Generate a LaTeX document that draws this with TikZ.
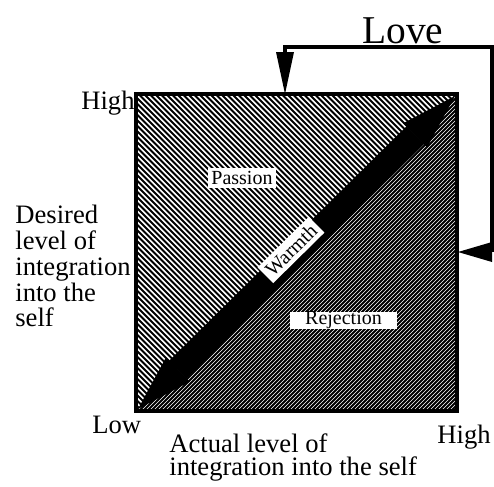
\documentclass[tikz,border=0pt]{standalone}
\usepackage{fontspec}
\setmainfont{Liberation Serif}
\usepackage{tikz}
\usetikzlibrary{arrows.meta,calc}
\tikzset{
  label-axis/.style={font=\fontsize{13.3}{13}\selectfont,inner sep=0pt},
  label-area/.style={font=\fontsize{10}{10}\selectfont,fill=white,inner sep=1.5pt},
  hatch-passion/.style={line width=0.95pt,draw=black},
  hatch-reject/.style={line width=0.3pt,draw=white},
  frame/.style={line width=1.7pt,draw=black,line join=miter},
  arrow-warmth/.style={line width=12.5pt,draw=black,
    {Triangle[length=28pt,width=17pt,line width=0pt]}-{Triangle[length=28pt,width=17pt,line width=0pt]}},
  arrow-love/.style={line width=2.2pt,draw=black,
    {Triangle[length=21pt,width=9pt,line width=0pt]}-{Triangle[length=17pt,width=10pt,line width=0pt]}},
}

\begin{document}
\begin{tikzpicture}[x=0.5pt,y=-0.5pt]
  \useasboundingbox (0,0) rectangle (494,487);
  % corners of the grid
  \coordinate (sq-ul) at (136,94);
  \coordinate (sq-ur) at (457,94);
  \coordinate (sq-ll) at (136,411);
  \coordinate (sq-lr) at (457,411);

  % passion half
  \begin{scope}
    \clip (sq-ul) -- (sq-ur) -- (sq-ll) -- cycle;
    \foreach \c in {-280,-274.5,...,375}
      \draw[hatch-passion] (\c,0) -- ++(500,500);
  \end{scope}
  % rejection half
  \begin{scope}
    \clip (sq-ur) -- (sq-lr) -- (sq-ll) -- cycle;
    \fill[black] (sq-ll) rectangle (sq-ur);
    \foreach \c in {540,544,...,872}
      \draw[hatch-reject] (\c,0) -- ++(-500,500);
  \end{scope}

  % warmth diagonal
  \coordinate (warm-lo) at (138,409);
  \coordinate (warm-hi) at (455,96);
  \draw[arrow-warmth] (warm-lo) -- (warm-hi);
  \draw[frame] (sq-ll) rectangle (sq-ur);

  \node[label-area] (passion) at (242,178) {Passion};
  \node[label-area,inner sep=0pt,minimum width=53.5pt,minimum height=7.5pt] (rejection) at (343.5,320.5) {Rejection};
  \node[label-area,rotate=44.6,inner sep=2pt] (warmth) at (291,250) {Warmth};

  % love
  \node[font=\fontsize{19.7}{20}\selectfont,inner sep=0pt,anchor=base] (love) at (403,43) {Love};
  \coordinate (love-in-top) at (285,94);
  \coordinate (love-bend) at (492,47);
  \coordinate (love-in-side) at (458,252);
  \draw[arrow-love] (love-in-top) |- (love-bend) |- (love-in-side);

  % axes
  \node[label-axis,anchor=base east] (y-high) at (135,110) {High};
  \node[label-axis,anchor=base west,align=left] (y-label) at (15,327)
    {Desired\\level of\\integration\\into the\\self};
  \node[label-axis,anchor=base west] (x-low) at (92,433) {Low};
  \node[label-axis,anchor=base west] (x-high) at (437,443) {High};
  \node[label-axis,anchor=base west,align=left,font=\fontsize{13.3}{11.5}\selectfont] (x-label) at (169,475)
    {Actual level of\\integration into the self};
\end{tikzpicture}
\end{document}
